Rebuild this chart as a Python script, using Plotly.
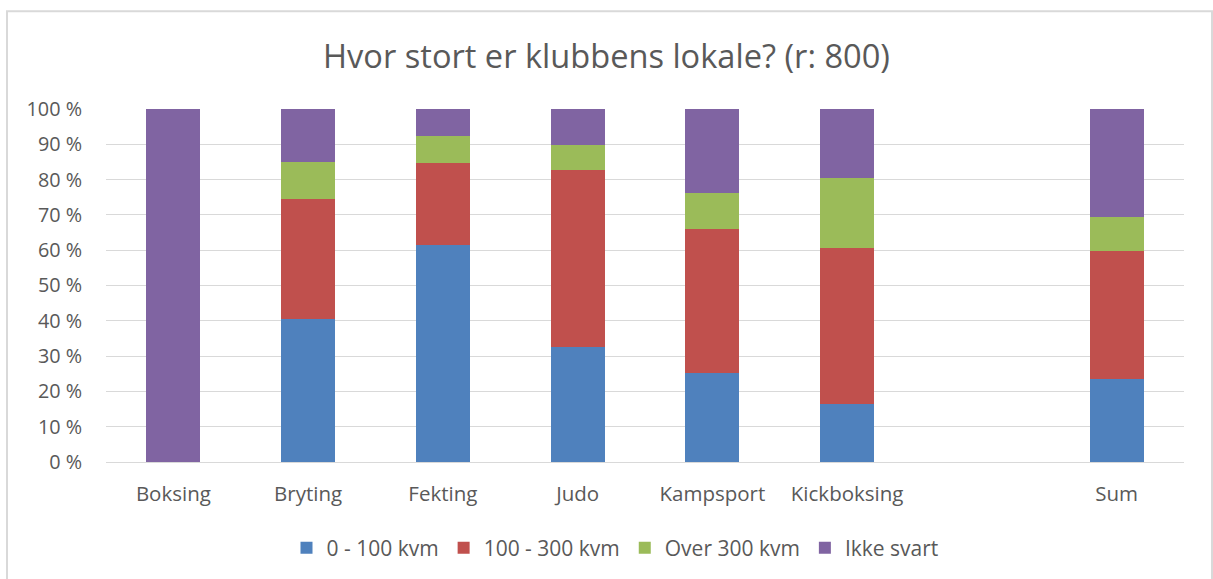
import plotly.graph_objects as go

categories = ["Boksing", "Bryting", "Fekting", "Judo", "Kampsport", "Kickboksing", " ", "Sum"]
series_names = ["0 - 100 kvm", "100 - 300 kvm", "Over 300 kvm", "Ikke svart"]
v_0_100 = [0, 40.4, 61.5, 32.7, 25.1, 16.4, None, 23.4]
v_100_300 = [0, 34.0, 23.1, 49.9, 40.8, 44.3, None, 36.5]
v_over_300 = [0, 10.6, 7.7, 7.2, 10.2, 19.7, None, 9.4]
v_ikke_svart = [100, 14.9, 7.7, 10.2, 23.9, 19.6, None, 30.7]
colors = ["#4f81bd", "#c0504d", "#9bbb59", "#8064a2"]
tick_vals = [0, 10, 20, 30, 40, 50, 60, 70, 80, 90, 100]
tick_text = ["0 %", "10 %", "20 %", "30 %", "40 %", "50 %", "60 %", "70 %", "80 %", "90 %", "100 %"]

FONT = "Open Sans"
GRAY = "#595959"

fig = go.Figure()
for name, vals, col in zip(series_names, [v_0_100, v_100_300, v_over_300, v_ikke_svart], colors):
    fig.add_trace(go.Bar(x=categories, y=vals, name=name, marker=dict(color=col, line=dict(width=0))))

W, H = 1213, 579
L, R, T, B = 106, 29, 109, 116
pw, ph = W - L - R, H - T - B

def px_x(p):
    return (p - L) / pw

def px_y(p):
    return (H - B - p) / ph

fig.update_layout(
    width=W, height=H,
    barmode="stack", bargap=0.6,
    margin=dict(l=L, r=R, t=T, b=B),
    paper_bgcolor="white", plot_bgcolor="white",
    font=dict(family=FONT, color=GRAY, size=20),
    title=dict(text="Hvor stort er klubbens lokale? (r: 800)", x=0.5, xanchor="center",
               y=1 - 57 / H, yanchor="middle", font=dict(size=32.6, color=GRAY, family=FONT)),
    xaxis=dict(type="category", categoryorder="array", categoryarray=categories,
               showgrid=False, showline=True, linecolor="#d9d9d9", linewidth=1,
               tickfont=dict(size=20.5, color=GRAY), ticks="", ticklabelstandoff=13),
    yaxis=dict(range=[0, 100], tickvals=tick_vals, ticktext=tick_text,
               showgrid=True, gridcolor="#d9d9d9", gridwidth=1, zeroline=False,
               tickfont=dict(size=19.8, color=GRAY), ticks="", ticklabelstandoff=23),
    legend=dict(orientation="h", x=px_x(615), xanchor="center", y=px_y(548), yanchor="middle",
                font=dict(size=21, color=GRAY), traceorder="normal", itemwidth=30),
    shapes=[dict(type="rect", xref="paper", yref="paper",
                 x0=px_x(7), x1=px_x(1212), y0=px_y(590), y1=px_y(11),
                 line=dict(color="#d9d9d9", width=2), fillcolor="rgba(0,0,0,0)", layer="below")],
)

fig.write_html("out.html", config={"displayModeBar": False},
               post_script="document.body.style.margin='0px';document.body.style.padding='0px';")
